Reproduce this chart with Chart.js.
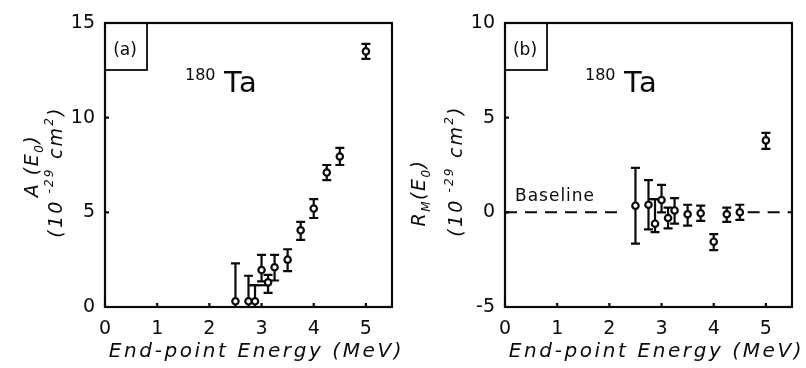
<!DOCTYPE html>
<html>
<head>
<meta charset="utf-8">
<script src="https://cdn.jsdelivr.net/npm/chart.js@4/dist/chart.umd.min.js"></script>
<style>
  html, body { margin: 0; padding: 0; background: #fff; }
  #wrap { position: relative; width: 806px; height: 368px; }
  canvas { position: absolute; top: 0; }
</style>
</head>
<body>
<div id="wrap">
  <canvas id="chartA" width="403" height="368" style="left:0"></canvas>
  <canvas id="chartB" width="403" height="368" style="left:403px"></canvas>
</div>
<script>
//
// Data
//

// end-point energies (MeV), shared by both panels
var energy = [2.5, 2.75, 2.875, 3.0, 3.125, 3.25, 3.5, 3.75, 4.0, 4.25, 4.5, 5.0];

// panel (a): A(E0) in 10^-29 cm^2, with error bar ends
var valueA = [0.3, 0.3, 0.3, 1.95, 1.3, 2.1, 2.5, 4.05, 5.2, 7.1, 7.95, 13.5];
var lowA   = [0, 0, 0, 1.35, 0.75, 1.4, 1.9, 3.55, 4.7, 6.7, 7.5, 13.1];
var highA  = [2.3, 1.65, 1.15, 2.75, 1.7, 2.75, 3.05, 4.5, 5.7, 7.5, 8.4, 13.9];
var binXA  = [2.75, 3.125];
var binYA  = [1.15, 1.15];

// panel (b): R_M(E0) in 10^-29 cm^2
var valueB = [0.35, 0.4, -0.6, 0.65, -0.3, 0.1, -0.1, -0.05, -1.55, -0.1, 0.0, 3.8];
var lowB   = [-1.65, -0.9, -1.05, 0.0, -0.85, -0.6, -0.7, -0.45, -2.0, -0.5, -0.4, 3.35];
var highB  = [2.35, 1.7, 0.7, 1.45, 0.25, 0.75, 0.4, 0.35, -1.15, 0.25, 0.4, 4.2];
var binXB  = [2.75, 3.0];
var binYB  = [0.7, 0.7];

// dashed baseline (gap where the points sit)
var baseX = [0, 2.2, 3.4, 4.65, 5.5];
var baseY = [0, 0, null, 0, 0];

// axes
var xTicks = [0, 1, 2, 3, 4, 5];
var yTicksA = [0, 5, 10, 15];
var yTicksB = [-5, 0, 5, 10];

var FONT = "'DejaVu Sans', sans-serif";
var INK = '#0a0a0a';

function toPoints(xs, ys) {
    return xs.map(function (x, i) { return { x: x, y: ys[i] }; });
}

//
// Plugins
//

/**
 * Error bars drawn under the markers
 */
var errorBars = {
    id: 'errorBars',
    beforeDatasetsDraw: function (chart) {
        var ctx = chart.ctx;
        var xs = chart.scales.x, ys = chart.scales.y;
        chart.data.datasets.forEach(function (ds) {
            if (!ds.errLow) return;
            ctx.save();
            ctx.strokeStyle = INK;
            ctx.lineWidth = 2.2;
            ds.data.forEach(function (p, i) {
                var px = xs.getPixelForValue(p.x);
                var top = ys.getPixelForValue(ds.errHigh[i]);
                var bot = ys.getPixelForValue(ds.errLow[i]);
                ctx.beginPath();
                ctx.moveTo(px, top); ctx.lineTo(px, bot);
                ctx.moveTo(px - 4.5, top); ctx.lineTo(px + 4.5, top);
                if (ds.errLow[i] > ys.min) {
                    ctx.moveTo(px - 4.5, bot); ctx.lineTo(px + 4.5, bot);
                }
                ctx.stroke();
            });
            ctx.restore();
        });
    }
};

/**
 * Draw text made of parts with their own size and vertical shift
 */
function drawRich(ctx, parts, cx, cy, rotate, spacing) {
    ctx.save();
    ctx.translate(cx, cy);
    if (rotate) ctx.rotate(-Math.PI / 2);
    ctx.textBaseline = 'alphabetic';
    ctx.textAlign = 'left';
    ctx.letterSpacing = spacing + 'px';
    var total = 0;
    parts.forEach(function (p) {
        ctx.font = (p.style || '') + ' ' + p.size + 'px ' + FONT;
        total += ctx.measureText(p.t).width;
    });
    var x = -total / 2;
    parts.forEach(function (p) {
        ctx.font = (p.style || '') + ' ' + p.size + 'px ' + FONT;
        ctx.fillText(p.t, x, p.dy || 0);
        x += ctx.measureText(p.t).width;
    });
    ctx.restore();
}

/**
 * Frame, inner ticks, panel tag, isotope label and axis titles
 */
var decor = {
    id: 'decor',
    afterDraw: function (chart, args, opts) {
        var ctx = chart.ctx;
        var a = chart.chartArea;
        var xs = chart.scales.x, ys = chart.scales.y;
        ctx.save();
        ctx.fillStyle = INK;
        ctx.strokeStyle = INK;
        ctx.lineWidth = 2.2;

        // full box round the plot
        ctx.strokeRect(a.left, a.top, a.right - a.left, a.bottom - a.top);

        // small inward ticks
        ctx.beginPath();
        xTicks.forEach(function (v) {
            var px = xs.getPixelForValue(v);
            ctx.moveTo(px, a.bottom); ctx.lineTo(px, a.bottom - 4);
        });
        opts.yTicks.forEach(function (v) {
            var py = ys.getPixelForValue(v);
            ctx.moveTo(a.left, py); ctx.lineTo(a.left + 4, py);
        });
        ctx.stroke();

        // panel tag box
        ctx.lineWidth = 1.8;
        ctx.strokeRect(a.left, a.top, 42, 47);
        ctx.font = '17px ' + FONT;
        ctx.textAlign = 'center';
        ctx.textBaseline = 'middle';
        ctx.fillText(opts.tag, a.left + 20, a.top + 28);

        // 180 Ta
        ctx.textAlign = 'left';
        ctx.textBaseline = 'alphabetic';
        ctx.font = '16px ' + FONT;
        ctx.fillText('180', a.left + 80, a.top + 57);
        ctx.font = '29px ' + FONT;
        ctx.letterSpacing = '2px';
        ctx.fillText('Ta', a.left + 119, a.top + 69);
        ctx.letterSpacing = '0px';

        if (opts.baseline) {
            ctx.font = '17px ' + FONT;
            ctx.letterSpacing = '1px';
            ctx.fillText(opts.baseline, a.left + 10, ys.getPixelForValue(0) - 11);
            ctx.letterSpacing = '0px';
        }

        // x title
        drawRich(ctx, [{ t: 'End-point Energy (MeV)', size: 20, style: 'italic' }],
            (a.left + a.right) / 2 + 8, 357, false, 2.6);

        // y titles (two rotated lines)
        drawRich(ctx, opts.yTitle1, opts.y1x, opts.y1y, true, 1.5);
        drawRich(ctx, [
            { t: '(10', size: 19, style: 'italic' },
            { t: ' -29', size: 12, style: 'italic', dy: -9 },
            { t: ' cm', size: 19, style: 'italic' },
            { t: '2', size: 12, style: 'italic', dy: -9 },
            { t: ')', size: 19, style: 'italic' }
        ], opts.y2x, opts.y2y, true, 2.2);

        ctx.restore();
    }
};

//
// Chart builder
//

function buildChart(canvasId, cfg) {
    var datasets = [
        {
            type: 'scatter',
            data: toPoints(energy, cfg.values),
            errLow: cfg.low,
            errHigh: cfg.high,
            pointRadius: 3.2,
            pointBorderWidth: 2.2,
            pointBackgroundColor: '#fff',
            pointBorderColor: INK,
            order: 0
        },
        {
            type: 'line',
            data: toPoints(cfg.binX, cfg.binY),
            borderColor: INK,
            borderWidth: 2.2,
            pointRadius: 0,
            order: 1
        }
    ];
    if (cfg.base) {
        datasets.push({
            type: 'line',
            data: toPoints(baseX, baseY),
            borderColor: INK,
            borderWidth: 2,
            borderDash: [12, 8],
            pointRadius: 0,
            spanGaps: false,
            order: 2
        });
    }

    return new Chart(document.querySelector(canvasId), {
        type: 'scatter',
        data: { datasets: datasets },
        plugins: [errorBars, decor],
        options: {
            responsive: false,
            animation: false,
            layout: { padding: { left: 0, top: 23, right: cfg.padRight, bottom: 0 } },
            plugins: {
                legend: { display: false },
                tooltip: { enabled: false },
                decor: cfg.decor
            },
            scales: {
                x: {
                    type: 'linear',
                    min: 0,
                    max: 5.5,
                    afterBuildTicks: function (scale) {
                        scale.ticks = xTicks.map(function (v) { return { value: v }; });
                    },
                    afterFit: function (scale) { scale.height = 61; },
                    grid: { display: false, drawTicks: false },
                    border: { display: false },
                    ticks: {
                        color: INK,
                        padding: 11,
                        maxRotation: 0,
                        font: { family: FONT, size: 19 }
                    }
                },
                y: {
                    type: 'linear',
                    min: cfg.yMin,
                    max: cfg.yMax,
                    afterBuildTicks: function (scale) {
                        scale.ticks = cfg.yTicks.map(function (v) { return { value: v }; });
                    },
                    afterFit: function (scale) { scale.width = cfg.yWidth; },
                    grid: { display: false, drawTicks: false },
                    border: { display: false },
                    ticks: {
                        color: INK,
                        padding: 10,
                        font: { family: FONT, size: 19 }
                    }
                }
            }
        }
    });
}

buildChart('#chartA', {
    values: valueA, low: lowA, high: highA, binX: binXA, binY: binYA,
    yMin: 0, yMax: 15, yTicks: yTicksA, yWidth: 105, padRight: 11,
    decor: {
        tag: '(a)',
        yTicks: yTicksA,
        yTitle1: [
            { t: 'A (E', size: 19, style: 'italic' },
            { t: '0', size: 12, style: 'italic', dy: 5 },
            { t: ')', size: 19, style: 'italic' }
        ],
        y1x: 38, y1y: 166,
        y2x: 62, y2y: 172
    }
});

buildChart('#chartB', {
    values: valueB, low: lowB, high: highB, binX: binXB, binY: binYB, base: true,
    yMin: -5, yMax: 10, yTicks: yTicksB, yWidth: 102, padRight: 14,
    decor: {
        tag: '(b)',
        yTicks: yTicksB,
        baseline: 'Baseline',
        yTitle1: [
            { t: 'R', size: 19, style: 'italic' },
            { t: 'M', size: 12, style: 'italic', dy: 5 },
            { t: '(E', size: 19, style: 'italic' },
            { t: '0', size: 12, style: 'italic', dy: 5 },
            { t: ')', size: 19, style: 'italic' }
        ],
        y1x: 22, y1y: 193,
        y2x: 59, y2y: 171
    }
});
</script>
</body>
</html>
